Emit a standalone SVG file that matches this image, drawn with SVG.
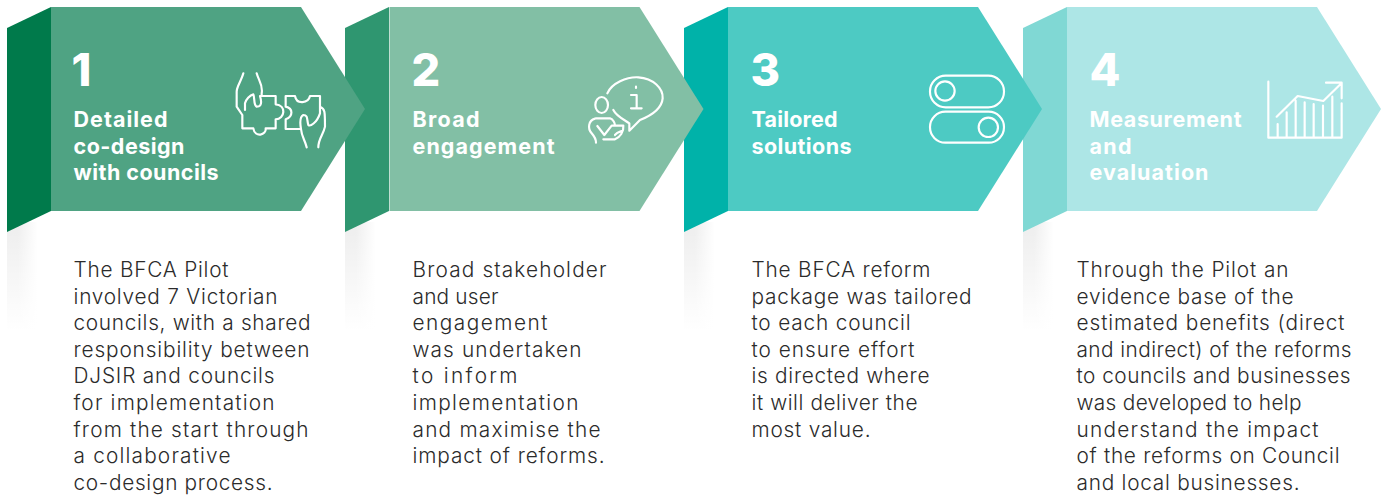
<svg xmlns="http://www.w3.org/2000/svg" width="1386" height="496" viewBox="0 0 1386 496">
<style>
.b{font-family:"Inter","Liberation Sans",sans-serif;font-weight:300;font-size:20.8px;fill:#2b2b2b;transform:translateY(.5px)}
.h{font-family:"Inter","Liberation Sans",sans-serif;font-weight:700;font-size:21.5px;fill:#fff}
.n{font-family:"Inter","Liberation Sans",sans-serif;font-weight:800;font-size:45px;fill:#fff}
.i{fill:none;stroke:#fff;stroke-width:6.5;stroke-linecap:round;stroke-linejoin:round}
</style>
<defs>
<linearGradient id="sv" x1="0" y1="0" x2="0" y2="1"><stop offset="0" stop-color="#000" stop-opacity=".07"/><stop offset="1" stop-color="#000" stop-opacity="0"/></linearGradient>
<linearGradient id="sh" x1="0" y1="0" x2="1" y2="0"><stop offset="0" stop-color="#fff" stop-opacity="0"/><stop offset=".35" stop-color="#fff" stop-opacity="0"/><stop offset="1" stop-color="#fff" stop-opacity="1"/></linearGradient>
<g id="shadow"><rect x="0" y="222" width="30" height="110" fill="url(#sv)"/><rect x="0" y="222" width="30.500" height="110" fill="url(#sh)"/></g>
<path id="side" d="M0,21L44,0V204L0,225Z"/>
<path id="arrow" d="M44,0H294L358,102L294,204H44Z"/>
</defs>
<g id="node-4">
<use href="#shadow" x="1023"/>
<use href="#side" x="1023" y="7" fill="#80d8d4"/><use href="#arrow" x="1023" y="7" fill="#ade6e6"/>
<text class="n" x="1089.500" y="86">4</text>
<text class="h" x="1089.500" y="127" textLength="152">Measurement</text>
<text class="h" x="1089.500" y="154" textLength="42">and</text>
<text class="h" x="1089.500" y="180" textLength="119">evaluation</text>
<g class="i" transform="translate(1250,70) scale(.3333)"><path d="M55,35V203H275V100M83,203V162M110,203V127M137,203V92M164,203V97M191,203V102M219,203V107M247,203V80M80,140L143,78L220,93L272,42M228,38H275V85"/></g>
<text class="b" x="1076.500" y="276" textLength="212">Through the Pilot an</text>
<text class="b" x="1076.500" y="303" textLength="217">evidence base of the</text>
<text class="b" x="1076.500" y="329" textLength="268">estimated benefits (direct</text>
<text class="b" x="1076.500" y="356" textLength="275">and indirect) of the reforms</text>
<text class="b" x="1076.500" y="382" textLength="274">to councils and businesses</text>
<text class="b" x="1076.500" y="409" textLength="225">was developed to help</text>
<text class="b" x="1076.500" y="436" textLength="242">understand the impact</text>
<text class="b" x="1076.500" y="462" textLength="263">of the reforms on Council</text>
<text class="b" x="1076.500" y="489" textLength="223">and local businesses.</text>
</g>
<g id="node-3">
<use href="#shadow" x="684"/>
<use href="#side" x="684" y="7" fill="#00b2a9"/><use href="#arrow" x="684" y="7" fill="#4dcac3"/>
<text class="n" x="750.500" y="86">3</text>
<text class="h" x="751.500" y="127" textLength="86">Tailored</text>
<text class="h" x="751.500" y="154" textLength="100">solutions</text>
<g class="i" transform="translate(910,60) scale(.3333)"><rect x="60" y="47" width="222" height="95" rx="47"/><rect x="60" y="155" width="222" height="93" rx="46"/><circle cx="105" cy="93" r="29"/><circle cx="235" cy="202" r="29"/></g>
<text class="b" x="751.500" y="276" textLength="179">The BFCA reform</text>
<text class="b" x="751.500" y="303" textLength="220">package was tailored</text>
<text class="b" x="751.500" y="329" textLength="159">to each council</text>
<text class="b" x="751.500" y="356" textLength="163">to ensure effort</text>
<text class="b" x="751.500" y="382" textLength="178">is directed where</text>
<text class="b" x="751.500" y="409" textLength="166">it will deliver the</text>
<text class="b" x="751.500" y="436" textLength="119">most value.</text>
</g>
<g id="node-2">
<use href="#shadow" x="345"/>
<use href="#side" x="345" y="7" fill="#2f9670"/><use href="#arrow" x="345.500" y="7" fill="#82bfa5"/>
<text class="n" x="411.500" y="86">2</text>
<text class="h" x="412.500" y="127" textLength="67">Broad</text>
<text class="h" x="412.500" y="154" textLength="142">engagement</text>
<g class="i" transform="translate(570,60) scale(.3333)"><path d="M112,100C125,70 170,50 205,52C250,55 280,85 278,115C275,150 235,170 210,180L178,212V190C165,180 140,170 130,150M198,80V84M183,105H200V143M183,145H215M78,175H120C130,178 135,190 135,197M75,176C55,182 52,205 65,220C72,228 78,235 78,248M82,198L103,225L125,197H160C162,215 150,232 135,238H100M135,225C142,215 152,215 158,212"/><ellipse cx="95" cy="135" rx="19" ry="24"/></g>
<text class="b" x="412.500" y="276" textLength="194">Broad stakeholder</text>
<text class="b" x="412.500" y="303" textLength="86">and user</text>
<text class="b" x="412.500" y="329" textLength="135">engagement</text>
<text class="b" x="412.500" y="356" textLength="169">was undertaken</text>
<text class="b" x="412.500" y="382" textLength="105">to inform</text>
<text class="b" x="412.500" y="409" textLength="166">implementation</text>
<text class="b" x="412.500" y="436" textLength="188">and maximise the</text>
<text class="b" x="412.500" y="462" textLength="192">impact of reforms.</text>
</g>
<g id="node-1">
<use href="#shadow" x="7"/>
<use href="#side" x="7" y="7" fill="#007a4b"/><use href="#arrow" x="7" y="7" fill="#4fa383"/>
<text class="n" x="71.500" y="86">1</text>
<text class="h" x="73.500" y="127" textLength="94">Detailed</text>
<text class="h" x="73.500" y="154" textLength="111">co-design</text>
<text class="h" x="73.500" y="180" textLength="145">with councils</text>
<g class="i" transform="translate(225,60) scale(.3333)"><path d="M55,40C50,60 35,80 35,95V140L52,165M95,40C100,60 115,75 110,100V108M52,165V205H85C90,235 125,225 122,205H152V178C180,178 185,135 152,133V108H105C115,140 100,140 95,140C85,135 90,115 85,103C75,105 62,120 60,130V150M182,108H210C215,135 250,130 255,108H285V160C275,190 255,200 250,195C245,180 250,165 235,165C225,170 225,190 228,207H182V178C205,170 205,145 182,140ZM285,140C300,145 300,155 300,200C295,225 280,235 280,262M228,207C230,230 240,240 245,262"/></g>
<text class="b" x="73.500" y="276" textLength="155">The BFCA Pilot</text>
<text class="b" x="73.500" y="303" textLength="204">involved 7 Victorian</text>
<text class="b" x="73.500" y="329" textLength="237">councils, with a shared</text>
<text class="b" x="73.500" y="356" textLength="236">responsibility between</text>
<text class="b" x="73.500" y="382" textLength="201">DJSIR and councils</text>
<text class="b" x="73.500" y="409" textLength="201">for implementation</text>
<text class="b" x="73.500" y="436" textLength="235">from the start through</text>
<text class="b" x="73.500" y="462" textLength="157">a collaborative</text>
<text class="b" x="73.500" y="489" textLength="199">co-design process.</text>
</g>
<g id="connectors"/>
</svg>
